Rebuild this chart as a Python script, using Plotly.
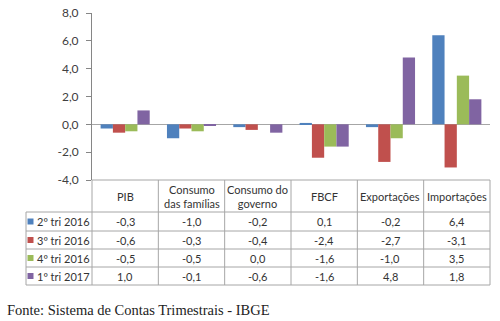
import plotly.graph_objects as go

categories = ["PIB", "Consumo<br>das famílias", "Consumo do<br>governo", "FBCF", "Exportações", "Importações"]
series_names = ["2º tri 2016", "3º tri 2016", "4º tri 2016", "1º tri 2017"]
tri2_2016 = [-0.3, -1.0, -0.2, 0.1, -0.2, 6.4]
tri3_2016 = [-0.6, -0.3, -0.4, -2.4, -2.7, -3.1]
tri4_2016 = [-0.5, -0.5, 0.0, -1.6, -1.0, 3.5]
tri1_2017 = [1.0, -0.1, -0.6, -1.6, 4.8, 1.8]
y_ticks = [-4, -2, 0, 2, 4, 6, 8]
source = "Fonte: Sistema de Contas Trimestrais - IBGE"

colors = ["#4F81BD", "#C0504D", "#9BBB59", "#8064A2"]
series_values = [tri2_2016, tri3_2016, tri4_2016, tri1_2017]

W, H = 500, 321
def px(x):
    return x / W
def py(y):
    return 1 - y / H

x_dom = [px(92), px(490)]
y_dom = [py(180), py(13)]
x_range = [-0.5, len(categories) - 0.5]

def xdata_to_paper(v):
    return x_dom[0] + (v - x_range[0]) / (x_range[1] - x_range[0]) * (x_dom[1] - x_dom[0])

fig = go.Figure()
xs = list(range(len(categories)))
for name, vals, c in zip(series_names, series_values, colors):
    fig.add_trace(go.Bar(x=xs, y=vals, name=name, marker=dict(color=c, line=dict(width=0)), showlegend=False))

fig.update_layout(
    template="none",
    width=W, height=H,
    margin=dict(l=0, r=0, t=0, b=0, pad=0),
    paper_bgcolor="white", plot_bgcolor="white",
    showlegend=False,
    barmode="group", bargap=0.26, bargroupgap=0,
    xaxis=dict(domain=x_dom, range=x_range, showticklabels=False, showgrid=False,
               zeroline=False, showline=False, ticks="", automargin=False),
    yaxis=dict(domain=y_dom, range=[-4, 8], tickvals=y_ticks,
               ticktext=[f"{v:.1f}".replace(".", ",") for v in y_ticks],
               showgrid=False, zeroline=True, zerolinecolor="#A6A6A6", zerolinewidth=1,
               showline=True, linecolor="#868686", linewidth=1, automargin=False,
               ticks="outside", ticklen=5, tickcolor="#868686",
               tickfont=dict(family="Lato", size=12, color="#404040"), ticklabelstandoff=5),
    font=dict(family="Lato"),
)

# Data table
line_col = "#A6A6A6"
t_top, t_head, rows_y = 180, 212, [212, 231, 249, 267, 285]
left_px = 26
col_edges = [xdata_to_paper(i - 0.5) for i in range(len(categories) + 1)]
shapes = []
for xe in col_edges:
    shapes.append(dict(type="line", xref="paper", yref="paper", x0=xe, x1=xe, y0=py(t_top), y1=py(rows_y[-1]),
                       line=dict(color=line_col, width=1)))
shapes.append(dict(type="line", xref="paper", yref="paper", x0=px(left_px), x1=px(left_px), y0=py(rows_y[0]), y1=py(rows_y[-1]),
                   line=dict(color=line_col, width=1)))
shapes.append(dict(type="line", xref="paper", yref="paper", x0=col_edges[0], x1=col_edges[-1], y0=py(t_top), y1=py(t_top),
                   line=dict(color=line_col, width=1)))
for ry in rows_y:
    shapes.append(dict(type="line", xref="paper", yref="paper", x0=px(left_px), x1=col_edges[-1], y0=py(ry), y1=py(ry),
                       line=dict(color=line_col, width=1)))

txt_font = dict(family="Lato", size=11, color="#333333")
annotations = []
for i, cat in enumerate(categories):
    annotations.append(dict(x=xdata_to_paper(i), y=py((t_top + t_head) / 2), xref="paper", yref="paper",
                            text=cat, showarrow=False, font=txt_font,
                            xanchor="center", yanchor="middle"))
for r, (name, vals, c) in enumerate(zip(series_names, series_values, colors)):
    cy = (rows_y[r] + rows_y[r + 1]) / 2
    shapes.append(dict(type="rect", xref="paper", yref="paper", x0=px(27.5), x1=px(33.5), y0=py(cy - 3), y1=py(cy + 3),
                       fillcolor=c, line=dict(width=0)))
    annotations.append(dict(x=px(34.5), y=py(cy), xref="paper", yref="paper", text=name, showarrow=False,
                            font=txt_font, xanchor="left", yanchor="middle"))
    for i, v in enumerate(vals):
        annotations.append(dict(x=xdata_to_paper(i), y=py(cy), xref="paper", yref="paper",
                                text=f"{v:.1f}".replace(".", ","), showarrow=False,
                                font=txt_font, xanchor="center", yanchor="middle"))

annotations.append(dict(x=px(5), y=py(310), xref="paper", yref="paper", text=source, showarrow=False,
                        font=dict(family="Liberation Serif", size=14.5, color="#222222"), xanchor="left", yanchor="middle"))

fig.update_layout(shapes=shapes, annotations=annotations)
fig.write_html("out.html")
